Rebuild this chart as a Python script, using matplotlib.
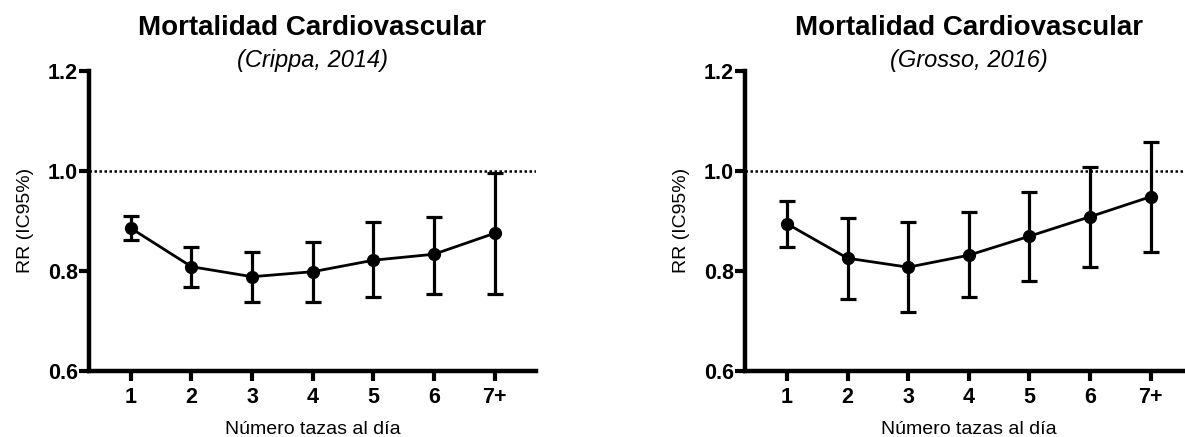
import matplotlib
matplotlib.use("Agg")
import matplotlib.pyplot as plt

plt.rcParams['font.family'] = ['Liberation Sans', 'DejaVu Sans']

# cups per day
tazas = [1, 2, 3, 4, 5, 6, 7]
tazas_lbl = ['1', '2', '3', '4', '5', '6', '7+']

# Crippa, 2014
rr_crippa = [0.885, 0.808, 0.788, 0.798, 0.821, 0.833, 0.875]
lo_crippa = [0.861, 0.767, 0.737, 0.737, 0.748, 0.754, 0.754]
hi_crippa = [0.909, 0.847, 0.837, 0.857, 0.897, 0.907, 0.996]

# Grosso, 2016
rr_grosso = [0.894, 0.825, 0.807, 0.831, 0.869, 0.908, 0.948]
lo_grosso = [0.848, 0.744, 0.717, 0.747, 0.779, 0.808, 0.838]
hi_grosso = [0.940, 0.905, 0.898, 0.917, 0.957, 1.008, 1.057]

titulo = 'Mortalidad Cardiovascular'
fuentes = ['(Crippa, 2014)', '(Grosso, 2016)']
yticks = [0.6, 0.8, 1.0, 1.2]

fig = plt.figure(figsize=(11.85, 4.37), dpi=100)
ax1 = fig.add_axes([0.0751, 0.1517, 0.3772, 0.6865])
ax2 = fig.add_axes([0.6287, 0.1517, 0.3772, 0.6865])


def panel(ax, rr, lo, hi, fuente):
    err = [[r - l for r, l in zip(rr, lo)], [h - r for r, h in zip(rr, hi)]]
    ax.axhline(1.0, color='black', lw=1.8, ls=(0, (1, 1.0)), zorder=1)
    ax.errorbar(tazas, rr, yerr=err, fmt='o-', color='black', ms=8.5,
                lw=2, elinewidth=2.3, capsize=5.5, capthick=2.3, zorder=3)
    ax.set_xlim(0.31, 7.68)
    ax.set_ylim(0.6, 1.2)
    ax.set_xticks(tazas)
    ax.set_xticklabels(tazas_lbl)
    ax.set_yticks(yticks)
    ax.set_yticklabels([f'{v:.1f}' for v in yticks])
    for s in ['top', 'right']:
        ax.spines[s].set_visible(False)
    for s in ['left', 'bottom']:
        ax.spines[s].set_linewidth(3.2)
    ax.tick_params(axis='x', length=7, width=3, pad=5, labelsize=15.5)
    ax.tick_params(axis='y', length=7, width=3, pad=1, labelsize=15.5)
    for t in ax.get_xticklabels() + ax.get_yticklabels():
        t.set_fontweight('bold')
    ax.set_xlabel('Número tazas al día', fontsize=14, labelpad=9)
    ax.set_ylabel('RR (IC95%)', fontsize=14, labelpad=10)
    ax.text(0.5, 1.12, titulo, transform=ax.transAxes, ha='center',
            va='baseline', fontsize=20, fontweight='bold')
    ax.text(0.5, 1.013, fuente, transform=ax.transAxes, ha='center',
            va='baseline', fontsize=17, style='italic')


panel(ax1, rr_crippa, lo_crippa, hi_crippa, fuentes[0])
panel(ax2, rr_grosso, lo_grosso, hi_grosso, fuentes[1])

plt.savefig('out.png', dpi=100)
